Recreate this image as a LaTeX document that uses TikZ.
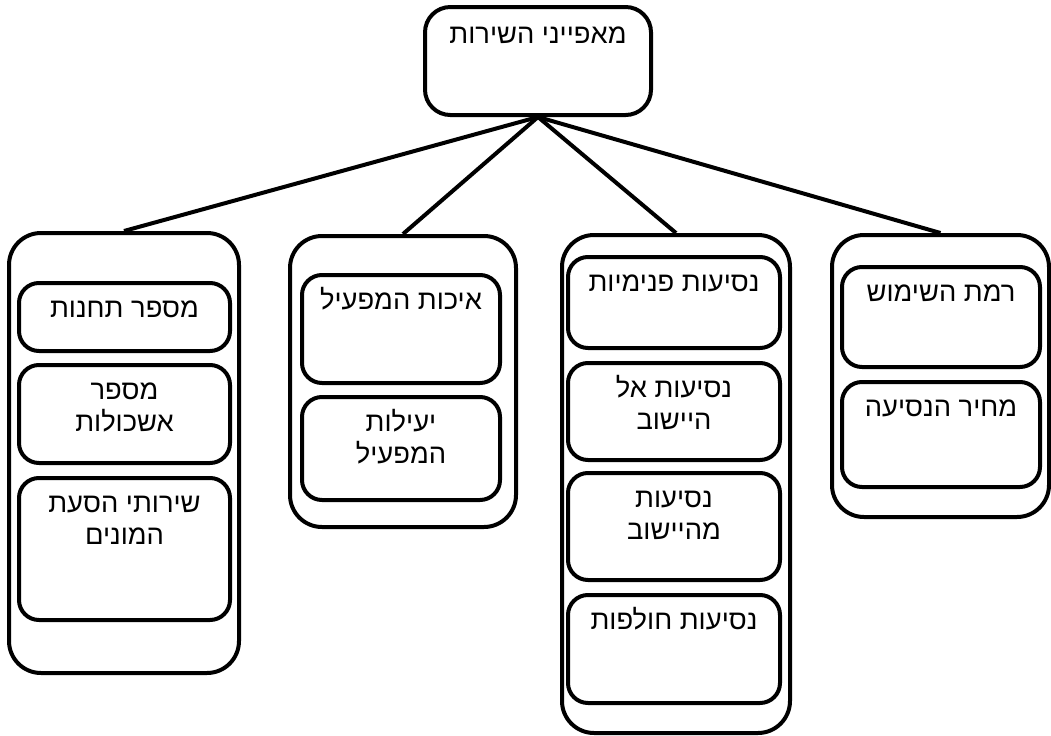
\documentclass[tikz,border=0pt]{standalone}
\usepackage{fontspec}
\setmainfont{Liberation Sans}
\newfontfamily\hebfont[Script=Hebrew]{Liberation Sans}
\TeXXeTstate=1
\usetikzlibrary{positioning}
\newcommand{\heb}[1]{\beginR#1\endR}
\newcommand{\px}{0.75pt}

\tikzset{
  outerbox/.style={draw, line width=3pt, rounded corners=24pt, inner sep=0pt},
  innerbox/.style={draw, line width=3pt, rounded corners=15pt, inner sep=0pt},
  topbox/.style={draw, line width=3pt, rounded corners=19pt, inner sep=0pt},
  boxtext/.style={inner sep=0pt, align=center, text height=10.5pt, font=\hebfont\fontsize{20.5}{24}\selectfont},
  twolines/.style={boxtext, text height=34.5pt},
  link/.style={line width=3pt},
}

\begin{document}
\begin{tikzpicture}[x=0.75pt, y=-0.75pt]
\useasboundingbox (0,0) rectangle (1051,736);

% top node
\node[topbox, minimum width=226*\px, minimum height=108*\px] (service) at (538,61) {};
\node[boxtext, below=18.5pt of service.north] (service-t) {\heb{מאפייני השירות}};

% the four groups
\node[outerbox, minimum width=230*\px, minimum height=440*\px] (access) at (124,453) {};
\node[outerbox, minimum width=226*\px, minimum height=291*\px] (operator) at (403,381.5) {};
\node[outerbox, minimum width=228*\px, minimum height=498*\px] (trips) at (676,484) {};
\node[outerbox, minimum width=217*\px, minimum height=282*\px] (usage) at (940.5,376) {};

\draw[link] (service.south) -- (access.north);
\draw[link] (service.south) -- (operator.north);
\draw[link] (service.south) -- (trips.north);
\draw[link] (service.south) -- (usage.north);

% group 1
\node[innerbox, minimum width=211*\px, minimum height=68*\px] (stations) at (124.5,317) {};
\node[innerbox, minimum width=211*\px, minimum height=98*\px] (clusters) at (124.5,414) {};
\node[innerbox, minimum width=211*\px, minimum height=142*\px] (shuttle) at (124.5,549) {};
\node[boxtext, below=17pt of stations.north] (stations-t) {\heb{מספר תחנות}};
\node[twolines, below=17pt of clusters.north] (clusters-t) {\heb{מספר}\\\heb{אשכולות}};
\node[twolines, below=17pt of shuttle.north] (shuttle-t) {\heb{שירותי הסעת}\\\heb{המונים}};

% group 2
\node[innerbox, minimum width=198*\px, minimum height=108*\px] (quality) at (401,329) {};
\node[innerbox, minimum width=198*\px, minimum height=103*\px] (efficiency) at (401,448.5) {};
\node[boxtext, below=17pt of quality.north] (quality-t) {\heb{איכות המפעיל}};
\node[twolines, below=17pt of efficiency.north] (efficiency-t) {\heb{יעילות}\\\heb{המפעיל}};

% group 3
\node[innerbox, minimum width=212*\px, minimum height=91*\px] (internal) at (674,302.5) {};
\node[innerbox, minimum width=212*\px, minimum height=97*\px] (inbound) at (674,411.5) {};
\node[innerbox, minimum width=212*\px, minimum height=107*\px] (outbound) at (674,526.5) {};
\node[innerbox, minimum width=212*\px, minimum height=108*\px] (passing) at (674,649) {};
\node[boxtext, below=17pt of internal.north] (internal-t) {\heb{נסיעות פנימיות}};
\node[twolines, below=17pt of inbound.north] (inbound-t) {\heb{נסיעות אל}\\\heb{היישוב}};
\node[twolines, below=17pt of outbound.north] (outbound-t) {\heb{נסיעות}\\\heb{מהיישוב}};
\node[boxtext, below=17pt of passing.north] (passing-t) {\heb{נסיעות חולפות}};

% group 4
\node[innerbox, minimum width=198*\px, minimum height=100*\px] (uselevel) at (941,317) {};
\node[innerbox, minimum width=198*\px, minimum height=105*\px] (fare) at (941,434.5) {};
\node[boxtext, below=17pt of uselevel.north] (uselevel-t) {\heb{רמת השימוש}};
\node[boxtext, below=17pt of fare.north] (fare-t) {\heb{מחיר הנסיעה}};
\end{tikzpicture}
\end{document}
